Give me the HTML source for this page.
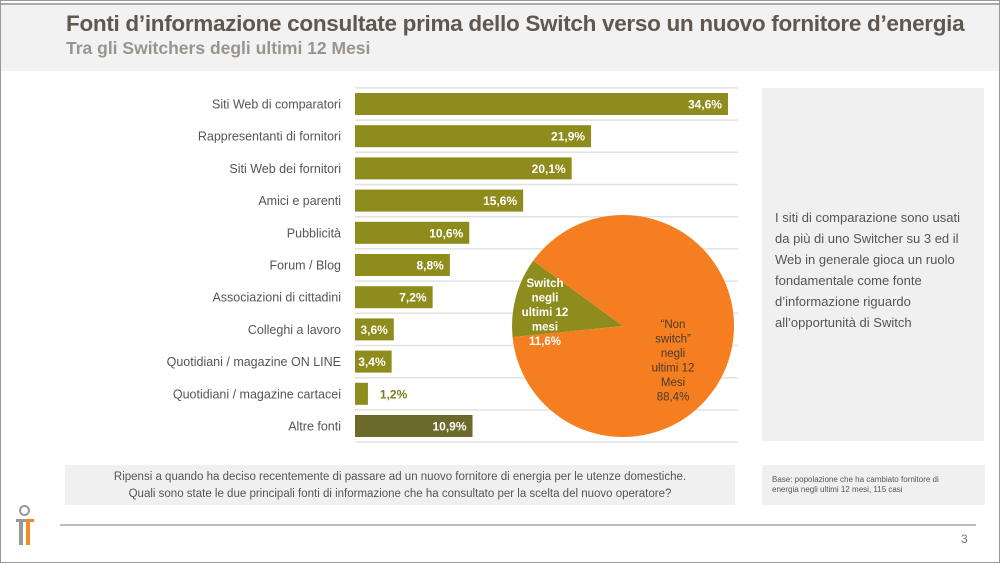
<!DOCTYPE html>
<html><head><meta charset="utf-8"><style>
body{margin:0;width:1000px;height:563px;overflow:hidden;background:#fff;font-family:"Liberation Sans",sans-serif;position:relative}
.a{position:absolute}
#frame{left:0;top:0;width:998px;height:561px;border:1px solid #999}
</style></head><body>
<div class="a" id="frame"></div>
<div class="a" style="left:1px;top:3px;width:998px;height:66px;background:#f2f2f2;border-top:2px solid #aaa"></div>
<div class="a" style="left:66px;top:11px;font-size:22.5px;font-weight:bold;color:#5f5850;letter-spacing:-0.3px;white-space:nowrap">Fonti d’informazione consultate prima dello Switch verso un nuovo fornitore d’energia</div>
<div class="a" style="left:66px;top:38px;font-size:17.5px;font-weight:bold;color:#9a948c;white-space:nowrap">Tra gli Switchers degli ultimi 12 Mesi</div>
<svg class="a" style="left:0;top:0" width="1000" height="563">
<g id="grid"></g><g id="bars"></g><g id="pie"></g>
</svg>
<div class="a" style="left:762px;top:88px;width:222px;height:353px;background:#f0f0f0"></div>
<div class="a" style="left:775px;top:207px;width:192px;font-size:13px;line-height:21px;color:#555">I siti di comparazione sono usati da più di uno Switcher su 3 ed il Web in generale gioca un ruolo fondamentale come fonte d’informazione riguardo all’opportunità di Switch</div>
<div class="a" style="left:65px;top:465px;width:670px;height:40px;background:#f0f0f0;font-size:11.5px;line-height:17px;color:#555;text-align:center;padding-top:4px;box-sizing:border-box">Ripensi a quando ha deciso recentemente di passare ad un nuovo fornitore di energia per le utenze domestiche.<br>Quali sono state le due principali fonti di informazione che ha consultato per la scelta del nuovo operatore?</div>
<div class="a" style="left:762px;top:465px;width:223px;height:40px;background:#f0f0f0;font-size:8px;line-height:10px;color:#555;padding:10px 20px 0 10px;box-sizing:border-box">Base: popolazione che ha cambiato fornitore di energia negli ultimi 12 mesi, 115 casi</div>
<div class="a" style="left:60px;top:524px;width:916px;height:2px;background:#bbb"></div>
<div class="a" style="left:961px;top:532px;font-size:12px;color:#777">3</div>
<div class="a" style="left:14px;top:505px;width:30px;height:40px">
<div class="a" style="left:5px;top:0;width:7px;height:7px;border:2px solid #999;border-radius:50%"></div>
<div class="a" style="left:2px;top:14px;width:12px;height:3px;background:#999"></div>
<div class="a" style="left:5px;top:14px;width:4px;height:26px;background:#999"></div>
<div class="a" style="left:12px;top:14px;width:4px;height:26px;background:#f28a2a"></div>
<div class="a" style="left:12px;top:14px;width:8px;height:3px;background:#f28a2a"></div>
</div>
<script>
const categories=["Siti Web di comparatori","Rappresentanti di fornitori","Siti Web dei fornitori","Amici e parenti","Pubblicità","Forum / Blog","Associazioni di cittadini","Colleghi a lavoro","Quotidiani / magazine ON LINE","Quotidiani / magazine cartacei","Altre fonti"];
const values=[34.6,21.9,20.1,15.6,10.6,8.8,7.2,3.6,3.4,1.2,10.9];
const pieLabels=["Switch negli ultimi 12 mesi","“Non switch” negli ultimi 12 Mesi"];
const pieValues=[11.6,88.4];
const NS="http://www.w3.org/2000/svg";
const x0=355,scale=10.78,y0=104,step=32.2,bh=22;
const xs=v=>x0+v*scale, ys=i=>y0+i*step;
function mk(t,at,parent){const e=document.createElementNS(NS,t);for(const k in at)e.setAttribute(k,at[k]);parent.appendChild(e);return e;}
const grid=document.getElementById('grid'),bars=document.getElementById('bars'),pie=document.getElementById('pie');
for(let i=0;i<=categories.length;i++){const y=ys(i)-step/2;const l=mk('line',{x1:x0,x2:738,y1:y,y2:y,stroke:'#e2e2e2','stroke-width':1.5},grid);

}
values.forEach((v,i)=>{const y=ys(i);const last=i===values.length-1;
const r=mk('rect',{x:x0,y:y-bh/2,width:xs(v)-x0,height:bh,fill:last?'#6b6a2a':'#8e8c1c'},bars);


const lab=mk('text',{x:x0-14,y:y+4.5,'text-anchor':'end','font-size':12.5,fill:'#555','font-family':'Liberation Sans'},bars);lab.textContent=categories[i];


const inside=v>=3;const t=mk('text',{x:inside?xs(v)-6:xs(v)+12,y:y+4.5,'text-anchor':inside?'end':'start','font-size':12,'font-weight':'bold',fill:inside?'#fff':'#7f7d1a','font-family':'Liberation Sans'},bars);
t.textContent=v.toFixed(1).replace('.',',')+'%';

});
const cx=623,cy=326,R=111;const colors=['#8e8c1c','#f57f20'];
const total=pieValues.reduce((a,b)=>a+b,0);let a=216*Math.PI/180;
pieValues.forEach((v,i)=>{const da=-v/total*2*Math.PI;const b=a+da;
const p1=[cx+R*Math.cos(a),cy+R*Math.sin(a)],p2=[cx+R*Math.cos(b),cy+R*Math.sin(b)];
const large=Math.abs(da)>Math.PI?1:0;
const s=mk('path',{d:`M${cx},${cy}L${p1[0]},${p1[1]}A${R},${R} 0 ${large} 0 ${p2[0]},${p2[1]}Z`,fill:colors[i]},pie);

a=b;});
const lp=[[{x:545,y:287},["Switch","negli","ultimi 12","mesi"]],[{x:673,y:328},["“Non","switch”","negli","ultimi 12","Mesi"]]];
lp.forEach(([p,lines],i)=>{const t=mk('text',{'text-anchor':'middle','font-size':11.5,'font-weight':i?'normal':'bold','font-family':'Liberation Sans',fill:i?'#4a3a2a':'#fff'},pie);


lines.concat([pieValues[i].toFixed(1).replace('.',',')+'%']).forEach((s,j)=>{const ts=mk('tspan',{x:p.x,y:p.y+j*14.5},t);ts.textContent=s;});});
</script>
</body></html>
